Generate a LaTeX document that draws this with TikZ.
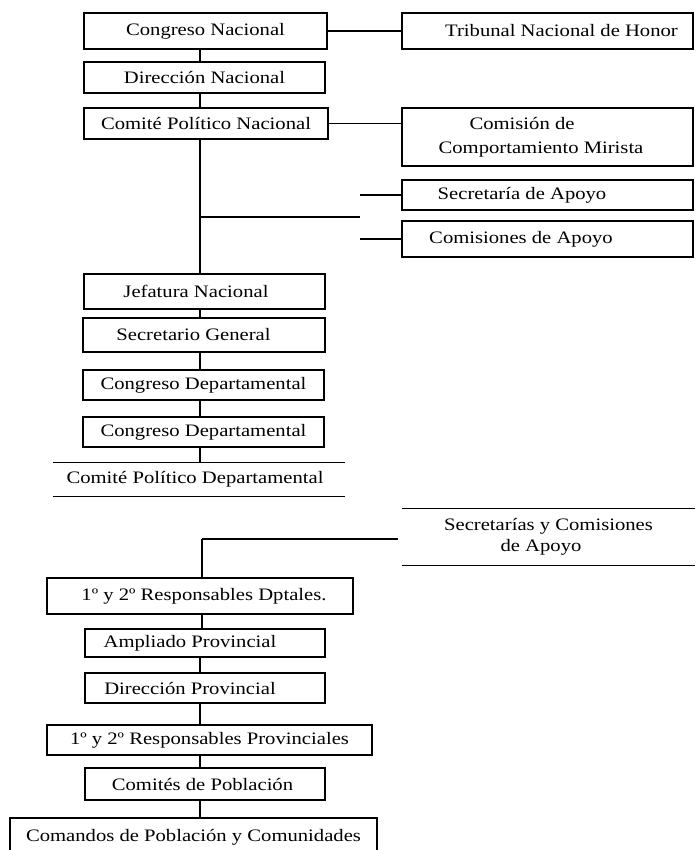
\documentclass[tikz,border=0pt]{standalone}
\usepackage{fontspec}
\setmainfont{Liberation Serif}[FakeStretch=1.18]
\newcommand\orgfont{\fontsize{17.5}{24}\selectfont}
\tikzset{
  unit/.style={draw, line width=1.2pt, inner sep=0pt, font=\orgfont, align=center},
  bare/.style={inner sep=0pt, font=\orgfont, align=center},
  link/.style={line width=1.2pt},
}
\begin{document}
\begin{tikzpicture}[x=1pt, y=-1pt]
\useasboundingbox (0,0) rectangle (695,850);
\clip (0,0) rectangle (695,850);

% national level
\node[unit, minimum width=243pt, minimum height=36pt] (cn)  at (205.5,31)  {Congreso Nacional};
\node[unit, minimum width=241pt, minimum height=31pt] (dn)  at (204.5,77.5) {Dirección Nacional};
\node[unit, minimum width=244pt, minimum height=31pt] (cpn) at (206,123.5) {Comité Político Nacional};

% bodies attached to the national level
\node[unit, minimum width=291pt, minimum height=36pt] (tnh) at (547.5,31)
  {\rule{28pt}{0pt}Tribunal Nacional de Honor};
\node[unit, minimum width=291pt, minimum height=58pt, font=\fontsize{17.5}{24}\selectfont] (ccm) at (547.5,137)
  {Comisión de\rule{51pt}{0pt}\\Comportamiento Mirista\rule{13pt}{0pt}};
\node[unit, minimum width=291pt, minimum height=30pt] (sda) at (547.5,195)
  {Secretaría de Apoyo\rule{51pt}{0pt}};
\node[unit, minimum width=291pt, minimum height=36pt] (cda) at (547.5,239)
  {Comisiones de Apoyo\rule{53pt}{0pt}};

% national command
\node[unit, minimum width=241pt, minimum height=35pt] (jn)  at (204.5,291.5) {Jefatura Nacional\rule{17pt}{0pt}};
\node[unit, minimum width=242pt, minimum height=34pt] (sg)  at (204,335)     {Secretario General\rule{21pt}{0pt}};

% departmental level
\node[unit, minimum width=241pt, minimum height=30pt] (cd1) at (203.5,385) {Congreso Departamental};
\node[unit, minimum width=241pt, minimum height=30pt] (cd2) at (203.5,432) {Congreso Departamental};
\node[bare, minimum width=292pt, minimum height=33pt] (cpd) at (199,479.5)
  {Comité Político Departamental\rule{8pt}{0pt}};
\draw[link] (cpd.north west) -- (cpd.north east);
\draw[link] (cpd.south west) -- (cpd.south east);

\node[bare, minimum width=293pt, minimum height=57pt, font=\fontsize{17.5}{21}\selectfont] (scda) at (548.5,537)
  {Secretarías y Comisiones\\de Apoyo\rule{15pt}{0pt}};
\draw[link] (scda.north west) -- (scda.north east);
\draw[link] (scda.south west) -- (scda.south east);

\node[unit, minimum width=306pt, minimum height=36pt] (rdp) at (200,596)
  {\rule{8pt}{0pt}1º y 2º Responsables Dptales.};

% provincial level
\node[unit, minimum width=240pt, minimum height=28pt] (ap)  at (205,643) {Ampliado Provincial\rule{30pt}{0pt}};
\node[unit, minimum width=240pt, minimum height=30pt] (dp)  at (205,688) {Dirección Provincial\rule{30pt}{0pt}};
\node[unit, minimum width=325pt, minimum height=30pt] (rpp) at (209.5,740) {1º y 2º Responsables Provinciales};
\node[unit, minimum width=240pt, minimum height=32pt] (cp)  at (205,784) {Comités de Población\rule{5pt}{0pt}};
\node[unit, minimum width=367pt, minimum height=38pt] (cpc) at (193.5,837) {Comandos de Población y Comunidades};

% spine and branch points
\coordinate (sp)  at (200,0);
\coordinate (br)  at (360,217);
\coordinate (bra) at (360,195);
\coordinate (brb) at (360,239);
\coordinate (lo)  at (202,539);
\coordinate (loe) at (398,539);

% vertical chain
\draw[link] (cn.south -| sp)  -- (dn.north -| sp);
\draw[link] (dn.south -| sp)  -- (cpn.north -| sp);
\draw[link] (cpn.south -| sp) -- (jn.north -| sp);
\draw[link] (jn.south -| sp)  -- (sg.north -| sp);
\draw[link] (sg.south -| sp)  -- (cd1.north -| sp);
\draw[link] (cd1.south -| sp) -- (cd2.north -| sp);
\draw[link] (cd2.south -| sp) -- (cpd.north -| sp);

% side links at national level
\draw[link] (cn.east) -- (tnh.west);
\draw[link] (cpn.east) -- (cpn.east -| ccm.west);
\draw[link] (br -| sp) -- (br);
\draw[link] (bra) -- (sda.west);
\draw[link] (brb) -- (cda.west);

% departmental support branch
\draw[link] (lo) -- (loe);
\draw[link] (lo) -- (rdp.north -| lo);

% provincial chain
\draw[link] (rdp.south -| lo) -- (ap.north -| lo);
\draw[link] (ap.south -| sp)  -- (dp.north -| sp);
\draw[link] (dp.south -| sp)  -- (rpp.north -| sp);
\draw[link] (rpp.south -| sp) -- (cp.north -| sp);
\draw[link] (cp.south -| sp)  -- (cpc.north -| sp);
\end{tikzpicture}
\end{document}
